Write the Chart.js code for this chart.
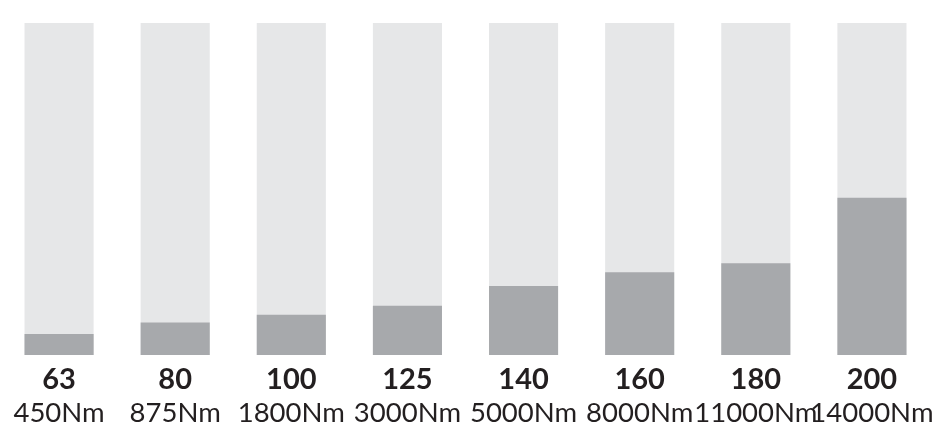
<!DOCTYPE html>
<html>
<head>
<meta charset="utf-8">
<script src="https://cdn.jsdelivr.net/npm/chart.js@4/dist/chart.umd.min.js"></script>
<style>
  html, body { margin: 0; padding: 0; background: #ffffff; }
  #wrap { width: 952px; height: 440px; position: relative; }
</style>
</head>
<body>
<div id="wrap"><canvas id="c"></canvas></div>
<script>
// Data (share of full bar height, %)
const sizes = ['63', '80', '100', '125', '140', '160', '180', '200'];
const torques = ['450Nm', '875Nm', '1800Nm', '3000Nm', '5000Nm', '8000Nm', '11000Nm', '14000Nm'];
const values = [6.3, 9.8, 12.1, 14.8, 20.8, 24.9, 27.6, 47.4];
const fullScale = [100, 100, 100, 100, 100, 100, 100, 100];

const textColor = '#231f20';
const fontFamily = 'Lato, "Open Sans", sans-serif';

new Chart(document.getElementById('c'), {
  type: 'bar',
  data: {
    labels: sizes,
    datasets: [
      {
        data: values,
        backgroundColor: '#a7a9ac',
        borderWidth: 0,
        grouped: false,
        barPercentage: 0.595,
        categoryPercentage: 1
      },
      {
        data: fullScale,
        backgroundColor: '#e6e7e8',
        borderWidth: 0,
        grouped: false,
        barPercentage: 0.595,
        categoryPercentage: 1
      }
    ]
  },
  options: {
    responsive: true,
    maintainAspectRatio: false,
    animation: false,
    layout: { padding: { top: 23, left: 1, right: 22, bottom: 7 } },
    plugins: { legend: { display: false }, tooltip: { enabled: false } },
    scales: {
      y: {
        display: false,
        min: 0,
        max: 100
      },
      x: {
        position: 'bottom',
        weight: 0,
        offset: true,
        afterFit: (scale) => { scale.height = 38; },
        grid: { display: false, drawTicks: false },
        border: { display: false },
        ticks: {
          autoSkip: false,
          maxRotation: 0,
          minRotation: 0,
          padding: 7,
          color: textColor,
          font: { family: fontFamily, size: 29, weight: 'bold', lineHeight: 1.2 }
        }
      },
      x2: {
        type: 'category',
        labels: torques,
        position: 'bottom',
        weight: 1,
        offset: true,
        afterFit: (scale) => { scale.height = 40; },
        grid: { display: false, drawTicks: false },
        border: { display: false },
        ticks: {
          autoSkip: false,
          maxRotation: 0,
          minRotation: 0,
          padding: 3.5,
          color: textColor,
          font: { family: fontFamily, size: 27.5, weight: 'normal', lineHeight: 1.2 }
        }
      }
    }
  }
});
</script>
</body>
</html>
